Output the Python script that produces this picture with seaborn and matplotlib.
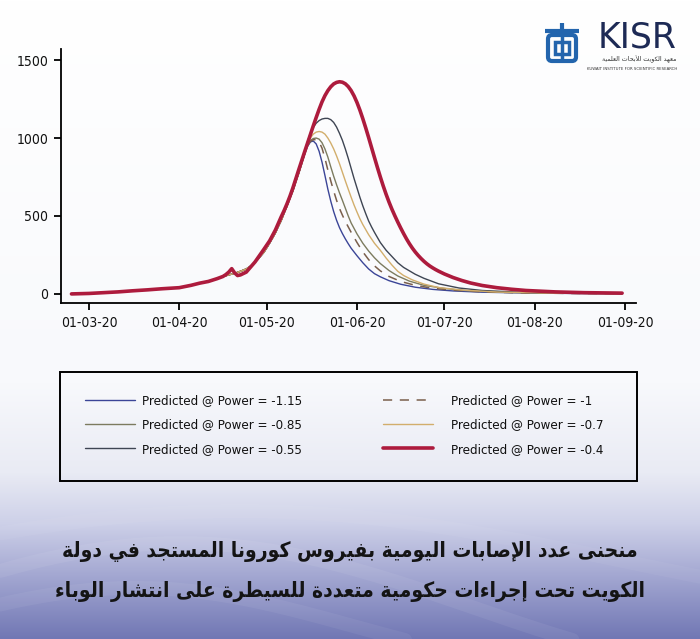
import os
import numpy as np
import pandas as pd
import matplotlib
matplotlib.use("Agg")
import matplotlib.pyplot as plt
import matplotlib.dates as mdates
from matplotlib import font_manager
from matplotlib.font_manager import FontProperties
from matplotlib.patches import Rectangle, FancyBboxPatch
from matplotlib.colors import to_rgb
import seaborn as sns

# --- data: days counted from 01-03-20, daily cases ---
start = pd.Timestamp("2020-03-01")

# common rising part of the thin curves
rise_days = [-6, 0, 5, 10, 15, 20, 25, 31, 35, 38, 41, 44, 46, 48, 50, 52, 54, 56, 58, 60, 62, 64, 66, 68, 70, 72, 73]
rise_vals = [0, 3, 8, 13, 20, 26, 33, 40, 55, 69, 80, 98, 112, 122, 132, 145, 160, 185, 222, 266, 325, 392, 472, 565, 662, 775, 835]

p115_days = [74, 75, 76, 77, 78, 79, 80, 81, 82, 83, 84, 85, 86, 87, 88, 89, 90, 92, 94, 96, 98, 100, 103, 107, 112, 118, 125, 135, 150, 165, 183]
p115_vals = [895, 945, 975, 981, 962, 915, 845, 760, 672, 595, 528, 472, 425, 387, 353, 322, 293, 245, 200, 160, 130, 110, 85, 62, 43, 29, 19, 11, 6, 3, 2]

p100_days = [74, 75, 76, 77, 78, 79, 80, 81, 82, 83, 84, 85, 86, 87, 88, 89, 90, 92, 94, 96, 98, 100, 103, 107, 112, 118, 125, 135, 150, 165, 183]
p100_vals = [895, 950, 978, 989, 990, 975, 935, 870, 795, 725, 660, 600, 548, 505, 465, 430, 395, 330, 270, 220, 180, 148, 112, 80, 55, 36, 24, 13, 6, 3, 2]

p085_days = [74, 75, 76, 77, 78, 79, 80, 81, 82, 83, 84, 85, 86, 87, 88, 89, 90, 92, 94, 96, 98, 100, 103, 106, 110, 115, 122, 130, 145, 165, 183]
p085_vals = [895, 950, 985, 997, 1000, 993, 970, 930, 878, 815, 755, 700, 648, 600, 550, 500, 455, 385, 325, 275, 232, 195, 150, 115, 82, 55, 35, 20, 9, 4, 2]

p070_days = [74, 75, 76, 77, 78, 79, 80, 81, 82, 83, 84, 85, 86, 87, 88, 89, 90, 91, 92, 93, 94, 96, 98, 100, 102, 104, 106, 108, 111, 115, 120, 128, 140, 160, 183]
p070_vals = [900, 960, 1000, 1025, 1038, 1042, 1038, 1025, 1000, 968, 930, 885, 835, 780, 725, 672, 620, 570, 525, 482, 445, 380, 325, 280, 230, 185, 145, 118, 90, 63, 41, 25, 12, 5, 2]

p055_days = [74, 75, 76, 77, 78, 79, 80, 81, 82, 83, 84, 85, 86, 87, 88, 89, 90, 91, 92, 93, 94, 95, 96, 97, 98, 100, 102, 104, 106, 108, 110, 112, 115, 120, 127, 135, 150, 165, 183]
p055_vals = [905, 975, 1030, 1068, 1095, 1112, 1122, 1126, 1126, 1118, 1100, 1070, 1030, 985, 930, 870, 805, 740, 680, 620, 565, 515, 468, 430, 395, 330, 280, 240, 200, 170, 148, 126, 100, 65, 38, 22, 9, 4, 2]

p040_days = [-6, 0, 5, 10, 15, 20, 25, 31, 35, 38, 41, 44, 46, 47, 48, 49, 50, 51, 52, 54,
             57, 60, 62, 64, 66, 67, 68, 69, 70, 71, 72, 73, 74, 75, 76, 77, 78, 79, 80, 81,
             82, 83, 84, 85, 86, 87, 88, 89, 90, 91, 92, 93, 94, 95, 96, 97, 98, 99, 100, 101,
             102, 103, 104, 105, 106, 107, 108, 109, 110, 111, 112, 113, 114, 115, 116, 117, 118, 119, 120, 122,
             125, 128, 131, 135, 140, 145, 150, 160, 170, 183]
p040_vals = [0, 3, 8, 13, 20, 26, 33, 40, 55, 69, 80, 98, 112, 124, 140, 162, 135, 118, 122, 140,
             205, 285, 340, 410, 495, 535, 579, 627, 680, 738, 796, 853, 910, 966, 1022, 1078, 1132, 1184, 1232, 1272,
             1304, 1329, 1347, 1357, 1361, 1358, 1348, 1330, 1304, 1270, 1228, 1179, 1124, 1065, 1003, 939, 875, 812, 751, 693,
             639, 589, 543, 501, 461, 423, 387, 353, 322, 294, 269, 247, 227, 209, 193, 179, 167, 156, 146, 128,
             105, 86, 70, 54, 40, 30, 22, 13, 8, 5]

labels = ["Predicted @ Power = -1.15", "Predicted @ Power = -0.85", "Predicted @ Power = -0.55",
          "Predicted @ Power = -1", "Predicted @ Power = -0.7", "Predicted @ Power = -0.4"]

title_lines = ["منحنى عدد الإصابات اليومية بفيروس كورونا المستجد في دولة",
               "الكويت تحت إجراءات حكومية متعددة للسيطرة على انتشار الوباء"]
logo_ar = "معهد الكويت للأبحاث العلمية"


# --- minimal Arabic shaping (matplotlib has no bidi/shaping) ---
FORMS = {
    "ء": ("\uFE80", None, None, None),
    "أ": ("\uFE83", "\uFE84", None, None),
    "إ": ("\uFE87", "\uFE88", None, None),
    "ا": ("\uFE8D", "\uFE8E", None, None),
    "ب": ("\uFE8F", "\uFE90", "\uFE91", "\uFE92"),
    "ة": ("\uFE93", "\uFE94", None, None),
    "ت": ("\uFE95", "\uFE96", "\uFE97", "\uFE98"),
    "ث": ("\uFE99", "\uFE9A", "\uFE9B", "\uFE9C"),
    "ج": ("\uFE9D", "\uFE9E", "\uFE9F", "\uFEA0"),
    "ح": ("\uFEA1", "\uFEA2", "\uFEA3", "\uFEA4"),
    "د": ("\uFEA9", "\uFEAA", None, None),
    "ر": ("\uFEAD", "\uFEAE", None, None),
    "س": ("\uFEB1", "\uFEB2", "\uFEB3", "\uFEB4"),
    "ش": ("\uFEB5", "\uFEB6", "\uFEB7", "\uFEB8"),
    "ص": ("\uFEB9", "\uFEBA", "\uFEBB", "\uFEBC"),
    "ط": ("\uFEC1", "\uFEC2", "\uFEC3", "\uFEC4"),
    "ع": ("\uFEC9", "\uFECA", "\uFECB", "\uFECC"),
    "ف": ("\uFED1", "\uFED2", "\uFED3", "\uFED4"),
    "ك": ("\uFED9", "\uFEDA", "\uFEDB", "\uFEDC"),
    "ل": ("\uFEDD", "\uFEDE", "\uFEDF", "\uFEE0"),
    "م": ("\uFEE1", "\uFEE2", "\uFEE3", "\uFEE4"),
    "ن": ("\uFEE5", "\uFEE6", "\uFEE7", "\uFEE8"),
    "ه": ("\uFEE9", "\uFEEA", "\uFEEB", "\uFEEC"),
    "و": ("\uFEED", "\uFEEE", None, None),
    "ى": ("\uFEEF", "\uFEF0", None, None),
    "ي": ("\uFEF1", "\uFEF2", "\uFEF3", "\uFEF4"),
    "\uFEF7": ("\uFEF7", "\uFEF8", None, None),
    "\uFEF9": ("\uFEF9", "\uFEFA", None, None),
    "\uFEFB": ("\uFEFB", "\uFEFC", None, None),
}


def shape_ar(text):
    text = text.replace("لأ", "\uFEF7").replace("لإ", "\uFEF9").replace("لا", "\uFEFB")
    out = []
    for i, c in enumerate(text):
        if c not in FORMS:
            out.append(c)
            continue
        prev = text[i - 1] if i > 0 else ""
        nxt = text[i + 1] if i + 1 < len(text) else ""
        jp = prev in FORMS and FORMS[prev][2] is not None
        jn = nxt in FORMS and FORMS[c][2] is not None
        iso, fin, ini, med = FORMS[c]
        if jp and jn:
            out.append(med)
        elif jp:
            out.append(fin or iso)
        elif jn:
            out.append(ini)
        else:
            out.append(iso)
    return "".join(reversed(out))


def find_font(keys, fallback):
    files = [f.fname for f in font_manager.fontManager.ttflist]
    for k in keys:
        for fn in files:
            if os.path.basename(fn).lower() == k.lower():
                return FontProperties(fname=fn), k
    return fallback, None


def to_dates(days):
    return start + pd.to_timedelta(days, unit="D")


sns.set_theme(style="white")
plt.rcParams["font.family"] = ["Liberation Sans", "DejaVu Sans"]

narrow, narrow_key = find_font(["LiberationSansNarrow-Regular.ttf", "DejaVuSansCondensed.ttf",
                                "RobotoCondensed-Regular.ttf", "NotoSans-Condensed.ttf"],
                               FontProperties(family="Liberation Sans"))
ar_bold, ar_key = find_font(["DejaVuSansCondensed-Bold.ttf"],
                            FontProperties(family="DejaVu Sans", weight="bold"))
if narrow_key is None:
    tick_size, leg_size = 9.5, 9
elif narrow_key.startswith("DejaVu"):
    tick_size, leg_size = 10, 9.5
else:
    tick_size, leg_size = 11, 10.5
title_size = 15 if ar_key else 13

fig = plt.figure(figsize=(7, 6.39), dpi=100)

# background gradient
bg = fig.add_axes([0, 0, 1, 1], zorder=-5)
stops = [0.0, 0.6, 0.74, 0.82, 0.9, 1.0]
cols = np.array([to_rgb(c) for c in ["#ffffff", "#f8f9fc", "#e9ebf4", "#cdd0e8", "#a4a8d2", "#7177b4"]])
t = np.linspace(0, 1, 639)
img = np.stack([np.interp(t, stops, cols[:, k]) for k in range(3)], axis=1)
img = np.repeat(img[:, None, :], 10, axis=1)
bg.imshow(img, aspect="auto", extent=[0, 1, 0, 1])
bg.set_xlim(0, 1)
bg.set_ylim(0, 1)
# faint decorative swooshes
xs = np.linspace(0, 1, 200)
for a, b, c, al in [(0.05, 0.10, 1.2, 0.35), (0.12, 0.08, 0.9, 0.25), (0.02, 0.06, 1.6, 0.3)]:
    bg.plot(xs, a + b * np.sin(c * np.pi * xs + 0.6), color="white", lw=10, alpha=al * 0.18)
bg.axis("off")

ax = fig.add_axes([0.0867, 0.5254, 0.822, 0.3974])
ax.patch.set_alpha(0)

series = [
    (labels[0], rise_days + p115_days, rise_vals + p115_vals, "#3b4597", 1.0, None),
    (labels[1], rise_days + p085_days, rise_vals + p085_vals, "#7c7b5f", 1.0, None),
    (labels[2], rise_days + p055_days, rise_vals + p055_vals, "#3e4553", 1.0, None),
    (labels[3], rise_days + p100_days, rise_vals + p100_vals, "#7a5f4c", 1.1, (6, 5)),
    (labels[4], rise_days + p070_days, rise_vals + p070_vals, "#d2ae6c", 1.0, None),
    (labels[5], p040_days, p040_vals, "#ad1b3d", 2.6, None),
]

handles = {}
for lab, d, v, col, lw, dash in series:
    sns.lineplot(x=to_dates(d), y=v, ax=ax, color=col, lw=lw, label=lab)
    ln = ax.lines[-1]
    ln.set_solid_joinstyle("round")
    if dash is not None:
        ln.set_dashes(dash)
    handles[lab] = ln
ax.get_legend().remove()

ax.set_xlim(start + pd.Timedelta(days=-9.7), start + pd.Timedelta(days=187.8))
ax.set_ylim(-60, 1569)
ax.set_yticks([0, 500, 1000, 1500])
ax.xaxis.set_major_locator(mdates.MonthLocator())
ax.xaxis.set_major_formatter(mdates.DateFormatter("%d-%m-%y"))
ax.set_xlabel("")
ax.set_ylabel("")
for s in ["top", "right"]:
    ax.spines[s].set_visible(False)
for s in ["left", "bottom"]:
    ax.spines[s].set_color("black")
    ax.spines[s].set_linewidth(1.3)
ax.tick_params(axis="both", which="major", direction="out", length=5, width=1.3,
               color="black", labelcolor="#111111", bottom=True, left=True, pad=4)
for tl in ax.get_xticklabels() + ax.get_yticklabels():
    tl.set_fontproperties(narrow)
    tl.set_fontsize(tick_size)
ax.grid(False)

# legend: frame plus two columns
fig.add_artist(Rectangle((60 / 700, 1 - 481 / 639), 577 / 700, 109 / 639, transform=fig.transFigure,
                         fill=False, ec="black", lw=1.4))
leg_font = narrow.copy()
leg_font.set_size(leg_size)
for cols_labels, x0, pad in [(labels[:3], 85, 0.55), (labels[3:], 383, 1.35)]:
    leg = fig.legend([handles[l] for l in cols_labels], cols_labels, loc="center left",
                     bbox_to_anchor=(x0 / 700, 1 - 425 / 639), frameon=False, prop=leg_font,
                     handlelength=3.8, handletextpad=pad, labelspacing=0.85,
                     borderpad=0, borderaxespad=0)
    for txt in leg.get_texts():
        txt.set_color("#111111")

# title in Arabic
for i, line in enumerate(title_lines):
    fig.text(0.5, 1 - (552 + 39 * i) / 639, shape_ar(line), ha="center", va="center",
             fontproperties=ar_bold, fontsize=title_size, color="#141414")

# KISR logo
fig.text(677 / 700, 1 - 48 / 639, "KISR", ha="right", va="baseline", fontsize=25,
         color="#1d2a55", family=["DejaVu Sans"])
fig.text(677 / 700, 1 - 59 / 639, shape_ar(logo_ar), ha="right", va="center", fontsize=4.6,
         color="#333333", family=["DejaVu Sans"])
fig.text(677 / 700, 1 - 68.5 / 639, "KUWAIT INSTITUTE FOR SCIENTIFIC RESEARCH", ha="right",
         va="center", fontsize=2.8, color="#333333", family=["DejaVu Sans"])
icon = fig.add_axes([543 / 700, 1 - 64 / 639, 38 / 700, 42 / 639])
icon.set_xlim(0, 38)
icon.set_ylim(0, 42)
icon.axis("off")
blue = "#2365ad"
icon.add_patch(FancyBboxPatch((5, 3), 28, 26, boxstyle="round,pad=0,rounding_size=4",
                              fill=False, ec=blue, lw=3))
icon.plot([2, 36], [33, 33], color=blue, lw=3, solid_capstyle="butt")
icon.plot([19, 19], [33, 41], color=blue, lw=3, solid_capstyle="butt")
icon.plot([19, 19], [3, 29], color=blue, lw=2.5, solid_capstyle="butt")
icon.add_patch(Rectangle((12, 10), 14, 12, fill=False, ec=blue, lw=2.5))

fig.savefig("out.png", dpi=100)
